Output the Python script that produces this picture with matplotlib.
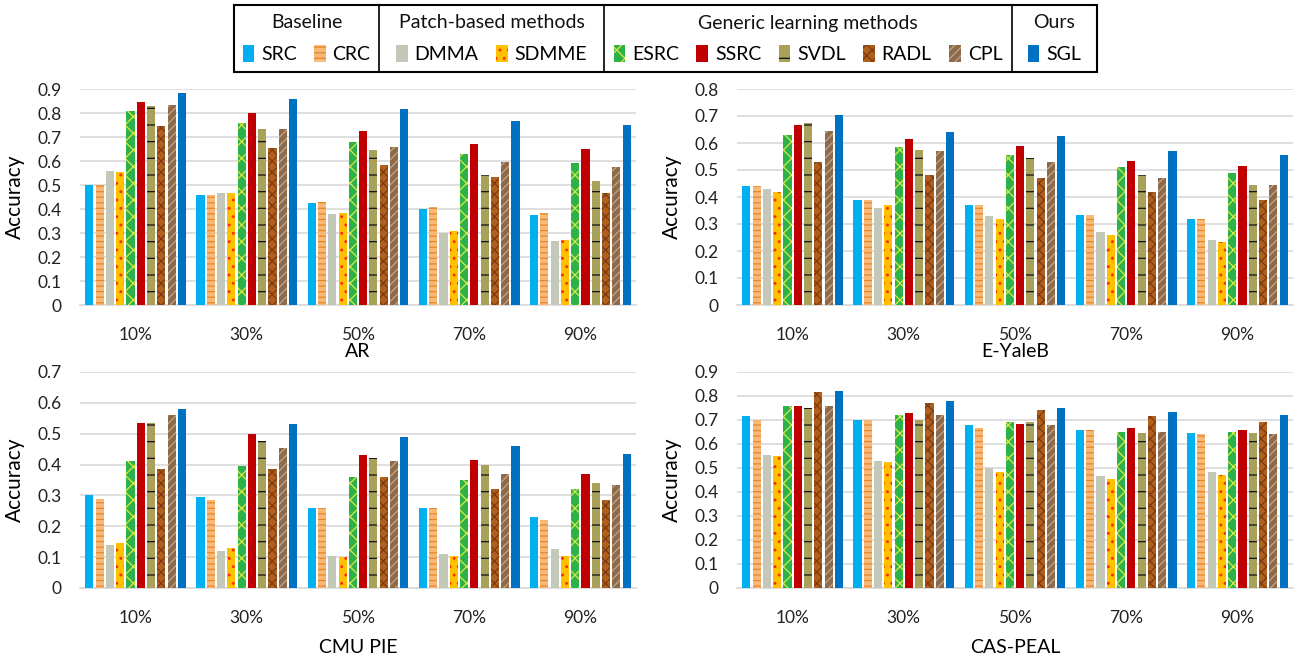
import numpy as np
import matplotlib
matplotlib.use("Agg")
import matplotlib.pyplot as plt
from matplotlib.patches import Patch, Rectangle
from matplotlib.legend import Legend

plt.rcParams["font.family"] = ["Lato", "DejaVu Sans"]
plt.rcParams["hatch.linewidth"] = 0.9

# data
ratios = ["10%", "30%", "50%", "70%", "90%"]
methods = ["SRC", "CRC", "DMMA", "SDMME", "ESRC", "SSRC", "SVDL", "RADL", "CPL", "SGL"]

# rows = methods, columns = ratios
ar = [
    [0.50, 0.46, 0.425, 0.40, 0.375],
    [0.50, 0.46, 0.43, 0.41, 0.385],
    [0.56, 0.465, 0.38, 0.30, 0.265],
    [0.555, 0.465, 0.385, 0.31, 0.27],
    [0.81, 0.76, 0.68, 0.63, 0.59],
    [0.845, 0.80, 0.725, 0.67, 0.65],
    [0.83, 0.735, 0.645, 0.54, 0.515],
    [0.745, 0.655, 0.585, 0.535, 0.465],
    [0.835, 0.735, 0.66, 0.595, 0.575],
    [0.885, 0.86, 0.815, 0.765, 0.75],
]
yaleb = [
    [0.44, 0.39, 0.37, 0.335, 0.32],
    [0.44, 0.39, 0.37, 0.335, 0.32],
    [0.43, 0.36, 0.33, 0.27, 0.24],
    [0.42, 0.37, 0.32, 0.26, 0.235],
    [0.63, 0.585, 0.555, 0.51, 0.49],
    [0.665, 0.615, 0.59, 0.535, 0.515],
    [0.675, 0.575, 0.545, 0.48, 0.445],
    [0.53, 0.48, 0.47, 0.42, 0.39],
    [0.645, 0.57, 0.53, 0.47, 0.445],
    [0.705, 0.64, 0.625, 0.57, 0.555],
]
cmupie = [
    [0.30, 0.295, 0.26, 0.26, 0.23],
    [0.29, 0.285, 0.26, 0.26, 0.22],
    [0.14, 0.12, 0.105, 0.11, 0.125],
    [0.145, 0.13, 0.10, 0.105, 0.105],
    [0.41, 0.395, 0.36, 0.35, 0.32],
    [0.535, 0.50, 0.43, 0.415, 0.37],
    [0.535, 0.475, 0.42, 0.40, 0.34],
    [0.385, 0.385, 0.36, 0.32, 0.285],
    [0.56, 0.455, 0.41, 0.37, 0.335],
    [0.58, 0.53, 0.49, 0.46, 0.435],
]
caspeal = [
    [0.715, 0.70, 0.68, 0.66, 0.645],
    [0.70, 0.70, 0.665, 0.66, 0.64],
    [0.555, 0.53, 0.50, 0.465, 0.485],
    [0.55, 0.525, 0.485, 0.455, 0.47],
    [0.76, 0.72, 0.69, 0.65, 0.65],
    [0.76, 0.73, 0.685, 0.665, 0.66],
    [0.75, 0.70, 0.69, 0.645, 0.645],
    [0.815, 0.77, 0.74, 0.715, 0.69],
    [0.76, 0.72, 0.68, 0.65, 0.64],
    [0.82, 0.78, 0.75, 0.735, 0.72],
]

# (facecolor, hatch, hatch colour)
styles = [
    ("#00B0F0", None, "#00B0F0"),
    ("#F8B878", "---", "#E8862A"),
    ("#C3C8B8", None, "#C3C8B8"),
    ("#FFC000", "..", "#FF2A00"),
    ("#2DB24A", "xx", "#D8E840"),
    ("#C00000", None, "#C00000"),
    ("#A9A05A", "-", "#111111"),
    ("#B0601C", "xxx", "#7A3A10"),
    ("#8C6A4C", "////", "#C8A486"),
    ("#0070C0", None, "#0070C0"),
]

W, H = 1295, 658
fig = plt.figure(figsize=(W / 100, H / 100), dpi=100)

panels = [
    (ar, "AR", 0.9, 80, 305, 556, 0),
    (yaleb, "E-YaleB", 0.8, 737, 305, 556, 0),
    (cmupie, "CMU PIE", 0.7, 80, 588, 556, 9),
    (caspeal, "CAS-PEAL", 0.9, 737, 588, 556, 9),
]

step = 0.0925
bw = 0.073
x = np.arange(len(ratios))

for data, name, ymax, left, base, width, lpad in panels:
    ax = fig.add_axes([left / W, (H - base) / H, width / W, 216 / H])
    for i, vals in enumerate(data):
        fc, hatch, hc = styles[i]
        ax.bar(x + (i - 4.5) * step, vals, bw, color=fc, hatch=hatch,
               edgecolor=hc, linewidth=0, zorder=3)
    ax.set_xlim(-0.5, len(ratios) - 0.5)
    ax.set_ylim(0, ymax)
    ticks = np.round(np.arange(0, ymax + 0.001, 0.1), 1)
    ax.set_yticks(ticks)
    ax.set_yticklabels(["%g" % t for t in ticks])
    ax.set_xticks(x)
    ax.set_xticklabels(ratios)
    ax.grid(axis="y", color="#D9D9D9", linewidth=1.2, zorder=0)
    for s in ["top", "right", "left"]:
        ax.spines[s].set_visible(False)
    ax.spines["bottom"].set_color("#D9D9D9")
    ax.spines["bottom"].set_linewidth(1.2)
    ax.tick_params(axis="both", length=0, labelsize=12.5, colors="#222222")
    ax.tick_params(axis="x", pad=16)
    ax.tick_params(axis="y", pad=13)
    ax.set_ylabel("Accuracy", fontsize=15, labelpad=9)
    ax.set_xlabel(name, fontsize=14, labelpad=lpad)

# grouped legend box on top
lx0, lx1, ly0, ly1 = 234, 1097, 5, 72
lax = fig.add_axes([lx0 / W, (H - ly1) / H, (lx1 - lx0) / W, (ly1 - ly0) / H])
lax.set_xlim(lx0, lx1)
lax.set_ylim(ly1, ly0)
lax.axis("off")
lax.add_patch(Rectangle((lx0, ly0), lx1 - lx0, ly1 - ly0, fill=False,
                        edgecolor="black", linewidth=1.5, clip_on=False))
seps = [379, 604, 1012]
for sx in seps:
    lax.plot([sx, sx], [ly0, ly1], color="black", linewidth=1.2)

groups = [
    ("Baseline", [0, 1]),
    ("Patch-based methods", [2, 3]),
    ("Generic learning methods", [4, 5, 6, 7, 8]),
    ("Ours", [9]),
]
edges = [lx0] + seps + [lx1]
for g, (title, idx) in enumerate(groups):
    handles = [Patch(facecolor=styles[i][0], hatch=styles[i][1],
                     edgecolor=styles[i][2], linewidth=0) for i in idx]
    cx = (edges[g] + edges[g + 1]) / 2
    lax.text(cx, 23, title, ha="center", va="center", fontsize=14,
             color="#111111")
    leg = Legend(lax, handles, [methods[i] for i in idx], ncol=len(idx),
                 loc="center",
                 bbox_to_anchor=((cx - lx0) / (lx1 - lx0), (ly1 - 54) / (ly1 - ly0)),
                 frameon=False, fontsize=14,
                 handlelength=0.6, handleheight=1.0, handletextpad=0.35,
                 columnspacing=0.9, borderpad=0.0, borderaxespad=0.0)
    lax.add_artist(leg)

fig.savefig("out.png", dpi=100)
